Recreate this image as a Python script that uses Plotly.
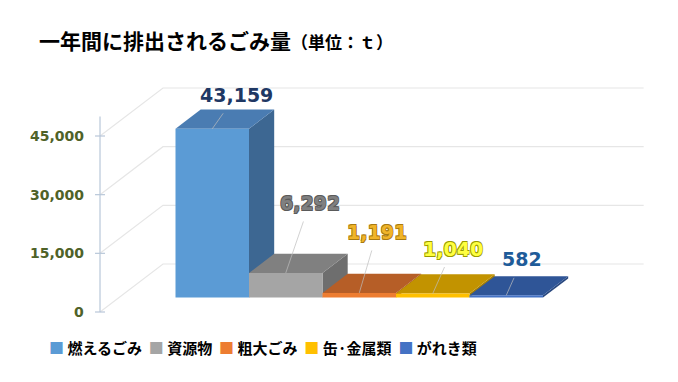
import plotly.graph_objects as go

# ---------------- data ----------------
title_main = "一年間に排出されるごみ量"
title_unit = "（単位：ｔ）"
categories = ["燃えるごみ", "資源物", "粗大ごみ", "缶·金属類", "がれき類"]
values = [43159, 6292, 1191, 1040, 582]
tick_values = [0, 15000, 30000, 45000]
tick_labels = ["0", "15,000", "30,000", "45,000"]
axis_max = 50000

# ---------------- styles ----------------
front_colors = ["#5B9BD5", "#A5A5A5", "#ED7D31", "#FFC000", "#4472C4"]
top_colors = ["#4A7CB2", "#808080", "#B65E27", "#C29300", "#2F5597"]
side_colors = ["#3D6792", "#6E6E6E", "#A4521F", "#A87F00", "#29487F"]
label_colors = ["#1F3864", "#808080", "#F0B429", "#FFFF40", "#1F5C99"]
label_outline = [None, "#5A5A5A", "#A87A10", "#9A9A00", None]
label_offsets = [(24, -34), (24, -70), (18, -61), (20, -45), (16, -36)]  # px

# oblique projection parameters (depth d in [0,1])
DX = 0.857      # x shift (bar-width units) for full depth
DY = 12270      # y shift (value units) for full depth
D_FRONT, D_BACK = 0.3, 0.7
FLOOR_L, FLOOR_R = -0.77, 5.77


def proj(x, y, d):
    return x + d * DX, y + d * DY


fig = go.Figure()

# ---- walls: back gridlines and side-wall diagonals ----
gx, gy = [], []
for v in tick_values:
    xa, ya = proj(FLOOR_L, v, 0)
    xb, yb = proj(FLOOR_L, v, 1)
    xc, yc = proj(FLOOR_R, v, 1)
    gx += [xa, xb, xc, None]
    gy += [ya, yb, yc, None]
fig.add_trace(go.Scatter(x=gx, y=gy, mode="lines",
                         line=dict(color="#E6E6E6", width=1.2),
                         hoverinfo="skip", showlegend=False))

# ---- front value axis with ticks ----
tick_half = 0.068
ax_x, ax_y = [FLOOR_L, FLOOR_L], [0, axis_max]
fig.add_trace(go.Scatter(x=ax_x, y=ax_y, mode="lines",
                         line=dict(color="#B9C7D9", width=1.2),
                         hoverinfo="skip", showlegend=False))
tx, ty = [], []
for v in tick_values:
    tx += [FLOOR_L - tick_half, FLOOR_L + tick_half, None]
    ty += [v, v, None]
fig.add_trace(go.Scatter(x=tx, y=ty, mode="lines",
                         line=dict(color="#B9C7D9", width=1.2),
                         hoverinfo="skip", showlegend=False))

# ---- 3D bars ----
for i, v in enumerate(values):
    x0, x1 = i, i + 1
    # right side face
    sx, sy = zip(proj(x1, 0, D_FRONT), proj(x1, 0, D_BACK),
                 proj(x1, v, D_BACK), proj(x1, v, D_FRONT), proj(x1, 0, D_FRONT))
    fig.add_trace(go.Scatter(x=list(sx), y=list(sy), mode="lines", fill="toself",
                             fillcolor=side_colors[i], line=dict(width=0),
                             hoverinfo="skip", showlegend=False))
    # top face
    tpx, tpy = zip(proj(x0, v, D_FRONT), proj(x1, v, D_FRONT),
                   proj(x1, v, D_BACK), proj(x0, v, D_BACK), proj(x0, v, D_FRONT))
    fig.add_trace(go.Scatter(x=list(tpx), y=list(tpy), mode="lines", fill="toself",
                             fillcolor=top_colors[i], line=dict(width=0),
                             hoverinfo="skip", showlegend=False))
    # front face
    fx0, fy0 = proj(x0, 0, D_FRONT)
    fx1, fy1 = proj(x1, v, D_FRONT)
    fig.add_trace(go.Scatter(x=[fx0, fx1, fx1, fx0, fx0], y=[fy0, fy0, fy1, fy1, fy0],
                             mode="lines", fill="toself",
                             fillcolor=front_colors[i], line=dict(width=0),
                             name=categories[i], hoverinfo="skip", showlegend=False))

# ---- value labels with leader lines ----
for i, v in enumerate(values):
    px_, py_ = proj(i + 0.5, v, D_FRONT)
    shadow = "none"
    if label_outline[i]:
        c = label_outline[i]
        o = 0.7
        shadow = (f"-{o}px -{o}px 0 {c}, {o}px -{o}px 0 {c}, "
                  f"-{o}px {o}px 0 {c}, {o}px {o}px 0 {c}")
    fig.add_annotation(x=px_, y=py_, xref="x", yref="y",
                       text=f"<b>{v:,}</b>", showarrow=True, arrowhead=0,
                       arrowwidth=0.7, arrowcolor="#BDBDBD",
                       ax=label_offsets[i][0], ay=label_offsets[i][1],
                       borderpad=7,
                       font=dict(family="DejaVu Sans", size=19,
                                 color=label_colors[i], shadow=shadow))

# ---- tick labels ----
for v, t in zip(tick_values, tick_labels):
    fig.add_annotation(x=FLOOR_L, y=v, xref="x", yref="y", text=f"<b>{t}</b>",
                       showarrow=False, xanchor="right", yanchor="middle",
                       xshift=-14,
                       font=dict(family="DejaVu Sans", size=14, color="#4F6228"))

# ---- title ----
fig.add_annotation(xref="paper", yref="paper", x=37 / 678, y=1 - 40 / 382,
                   xanchor="left", yanchor="middle", showarrow=False,
                   text=(f"<b>{title_main}</b>"
                         f"<b><span style='font-size:17px'>{title_unit}</span></b>"),
                   font=dict(family="Noto Sans CJK JP", size=21, color="#000000"))

# ---- legend (as text) ----
legend_parts = [f"<span style='color:{c}'>■</span>\u00a0{n}"
                for c, n in zip(front_colors, categories)]
fig.add_annotation(xref="paper", yref="paper", x=263 / 678, y=1 - 347 / 382,
                   xanchor="center", yanchor="middle", showarrow=False,
                   text="<b>" + "\u00a0\u00a0".join(legend_parts) + "</b>",
                   font=dict(family="Noto Sans CJK JP", size=15, color="#000000"))

# axis ranges mapping bar-width units / values onto the canvas
x0r = -156.6 / 73.5
fig.update_xaxes(range=[x0r, x0r + 678 / 73.5], visible=False, fixedrange=True)
vpp = 45000 / 176.0
fig.update_yaxes(range=[-(382 - 312) * vpp, 312 * vpp], visible=False, fixedrange=True)

fig.update_layout(width=678, height=382, margin=dict(l=0, r=0, t=0, b=0),
                  paper_bgcolor="white", plot_bgcolor="white", showlegend=False)

fig.write_html("out.html", config={"displayModeBar": False},
               post_script="document.body.style.margin='0';")
